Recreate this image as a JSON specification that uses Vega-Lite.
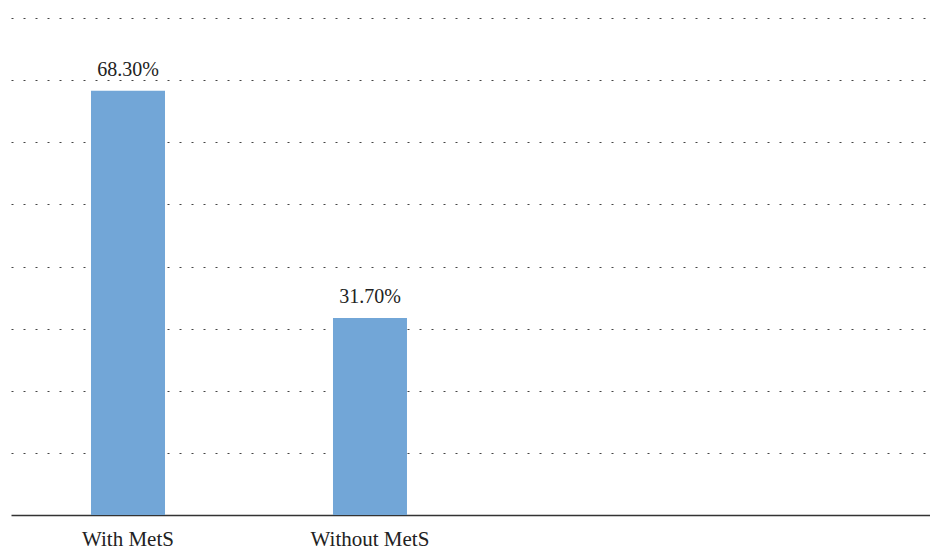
{
  "$schema": "https://vega.github.io/schema/vega-lite/v6.json",
  "width": 919,
  "height": 497,
  "autosize": {"type": "none"},
  "padding": {"left": 11, "top": 18, "right": 0, "bottom": 35},
  "background": "white",
  "data": {
    "values": [
      {"group": "With MetS", "value": 68.3, "label": "68.30%"},
      {"group": "Without MetS", "value": 31.7, "label": "31.70%"}
    ]
  },
  "encoding": {
    "x": {
      "field": "group",
      "type": "nominal",
      "sort": null,
      "scale": {
        "domain": ["With MetS", "Without MetS", "_"],
        "paddingInner": 0.6942,
        "paddingOuter": 0.746,
        "align": 0.2216
      },
      "axis": {
        "title": null,
        "values": ["With MetS", "Without MetS"],
        "labelAngle": 0,
        "ticks": false,
        "labelPadding": 13,
        "labelFont": "Liberation Serif",
        "labelFontSize": 21,
        "labelColor": "#222",
        "domainColor": "#333",
        "domainWidth": 1.3
      }
    },
    "y": {
      "field": "value",
      "type": "quantitative",
      "scale": {"domain": [0, 80], "nice": false},
      "axis": {
        "title": null,
        "values": [10, 20, 30, 40, 50, 60, 70, 80],
        "labels": false,
        "ticks": false,
        "domain": false,
        "grid": true,
        "gridColor": "#444",
        "gridDash": [2, 10],
        "gridWidth": 1
      }
    }
  },
  "layer": [
    {"mark": {"type": "bar", "color": "#72A6D7"}},
    {
      "mark": {
        "type": "text",
        "baseline": "alphabetic",
        "dy": -15,
        "font": "Liberation Serif",
        "fontSize": 20,
        "color": "#222"
      },
      "encoding": {"text": {"field": "label"}}
    }
  ],
  "config": {"view": {"stroke": null}}
}
